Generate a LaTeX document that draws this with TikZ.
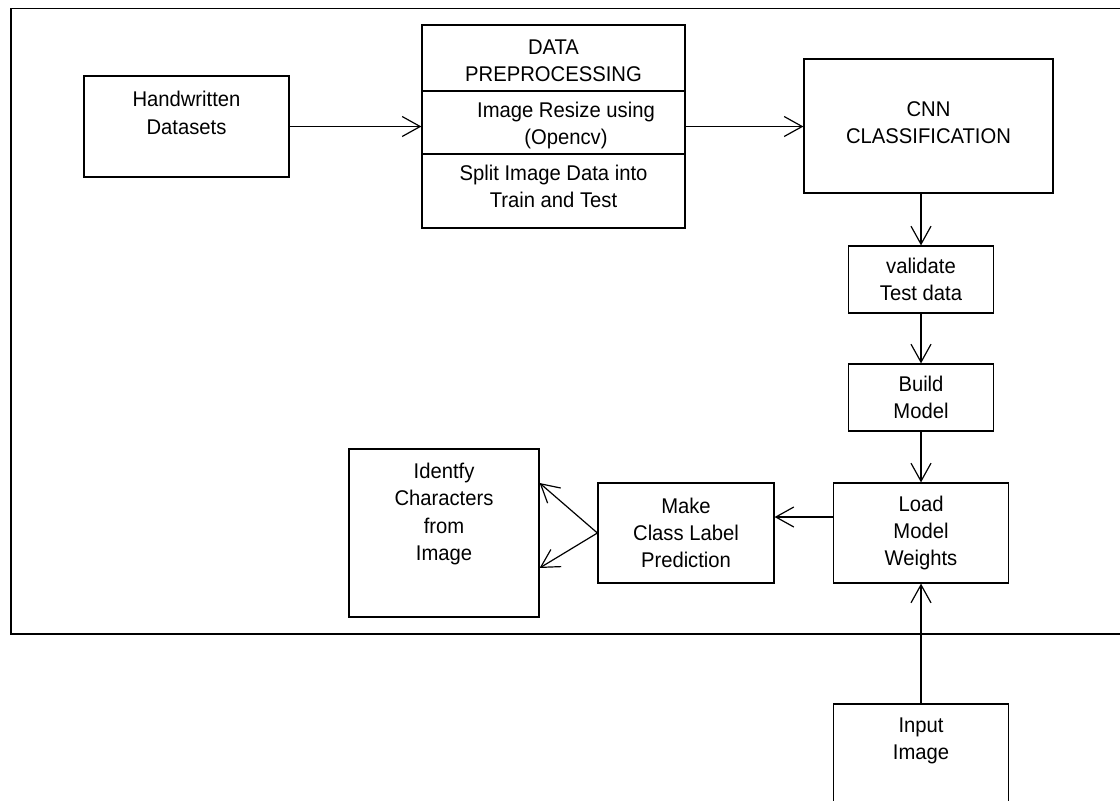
\documentclass[tikz,border=0pt]{standalone}
\usepackage{fontspec}
\setmainfont{Liberation Sans}[FakeStretch=0.95]
\usetikzlibrary{arrows.meta}

\begin{document}
\begin{tikzpicture}[x=1pt, y=-1pt, line width=1.2pt,
		box/.style={rectangle, draw, align=center, font=\fontsize{21.3}{27.3}\selectfont},
		txt/.style={align=center, font=\fontsize{21.3}{27.3}\selectfont},
		arr/.style={-{Straight Barb[length=18pt, width=20pt]}}]
	\useasboundingbox (0,0) rectangle (1120,801);
	\clip (0,0) rectangle (1120,801);

	\draw (1130,8.5) -- (11,8.5) -- (11,634) -- (1130,634);

	\node[box, minimum width=205pt, minimum height=101pt, label={[txt, yshift=13.5pt]center:{Handwritten\\Datasets}}] (hw) at (186.5,126.5) {};
	\node[box, minimum width=263pt, minimum height=203pt] (pre) at (553.5,126.5) {};
	\node[txt] (pre1) at (553.5,61) {DATA\\PREPROCESSING};
	\node[txt] (pre2) at (566,125.5) {Image Resize using\\(Opencv)};
	\node[txt] (pre3) at (553.5,186.5) {Split Image Data into\\Train and Test};
	\draw ([yshift=35.5pt]pre.west) -- ([yshift=35.5pt]pre.east);
	\draw ([yshift=-27.5pt]pre.west) -- ([yshift=-27.5pt]pre.east);
	\node[box, minimum width=249pt, minimum height=134pt, label={[txt, yshift=3.5pt]center:{CNN\\CLASSIFICATION}}] (cnn) at (928.5,126) {};
	\node[box, minimum width=145pt, minimum height=67pt] (val) at (921,279.5) {validate\\Test data};
	\node[box, minimum width=145pt, minimum height=67pt] (build) at (921,397.5) {Build\\Model};
	\node[box, minimum width=175pt, minimum height=100pt] (load) at (921,533) {Load\\Model\\Weights};
	\node[box, minimum width=176pt, minimum height=100pt] (pred) at (686,533) {Make\\Class Label\\Prediction};
	\node[box, minimum width=190pt, minimum height=168pt, label={[txt, yshift=19pt]center:{Identfy\\Characters\\from\\Image}}] (ident) at (444,533) {};
	\node[box, minimum width=175pt, minimum height=126pt, label={[txt, yshift=26pt]center:{Input\\Image}}] (input) at (921,767) {};

	\draw[arr] (hw) -- (pre);
	\draw[arr] (pre.east) -- (pre.east -| cnn.west);
	\draw[arr] (cnn.south -| val.north) -- (val.north);
	\draw[arr] (val) -- (build);
	\draw[arr] (build) -- (load);
	\draw[arr] ([yshift=16pt]load.west) -- ([yshift=16pt]load.west -| pred.east);
	\draw[arr] (pred.west) -- ([yshift=50pt]ident.east);
	\draw[arr] (pred.west) -- ([yshift=-35pt]ident.east);
	\draw[arr] (input) -- (load);
\end{tikzpicture}
\end{document}
